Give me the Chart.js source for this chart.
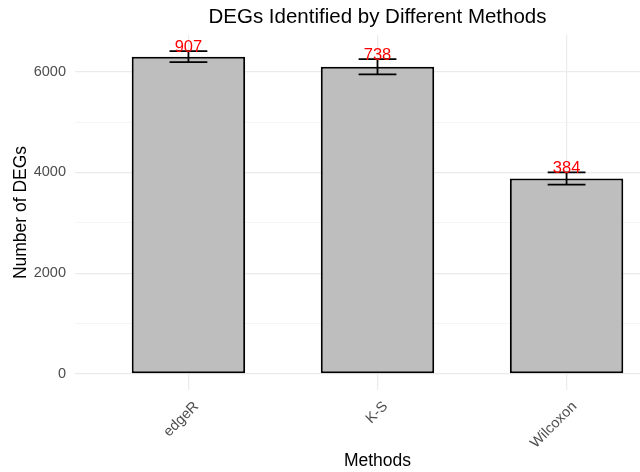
<!DOCTYPE html>
<html>
<head>
<meta charset="utf-8">
<script src="https://cdn.jsdelivr.net/npm/chart.js@4/dist/chart.umd.min.js"></script>
<style>
  html, body { margin: 0; padding: 0; overflow: hidden; background: #fff; }
  #wrap { position: relative; width: 680px; height: 472px; }
</style>
</head>
<body>
<div id="wrap"><canvas id="c"></canvas></div>
<script>
// ---- data ----
const methods = ["edgeR", "K-S", "Wilcoxon"];
const degMeans = [6300, 6100, 3880];
const degSD = [110, 150, 120];
const uniqueLabels = ["907", "738", "384"];
const yTickValues = [0, 1000, 2000, 3000, 4000, 5000, 6000];
const yLabelValues = [0, 2000, 4000, 6000];

const FONT = "'Liberation Sans', Arial, sans-serif";

// ggplot-like expansion
const topVal = Math.max(...degMeans.map((m, i) => m + degSD[i]));
const yMin = -0.05 * topVal;
const yMax = topVal * 1.05;

const errorBarPlugin = {
  id: 'errbars',
  afterDatasetsDraw(chart) {
    const ctx = chart.ctx;
    const xs = chart.scales.x, ys = chart.scales.y;
    ctx.save();
    ctx.strokeStyle = '#000';
    ctx.lineWidth = 1.8;
    degMeans.forEach((m, i) => {
      const xc = xs.getPixelForValue(i + 1);
      const xl = xs.getPixelForValue(i + 1 - 0.1);
      const xr = xs.getPixelForValue(i + 1 + 0.1);
      const yt = ys.getPixelForValue(m + degSD[i]);
      const yb = ys.getPixelForValue(m - degSD[i]);
      ctx.beginPath();
      ctx.moveTo(xc, yt); ctx.lineTo(xc, yb);
      ctx.moveTo(xl, yt); ctx.lineTo(xr, yt);
      ctx.moveTo(xl, yb); ctx.lineTo(xr, yb);
      ctx.stroke();
    });
    ctx.fillStyle = '#ff0000';
    ctx.font = '16.5px ' + FONT;
    ctx.textAlign = 'center';
    ctx.textBaseline = 'alphabetic';
    degMeans.forEach((m, i) => {
      const xc = xs.getPixelForValue(i + 1);
      const yt = ys.getPixelForValue(m + degSD[i]);
      ctx.fillText(uniqueLabels[i], xc, yt + 1);
    });
    ctx.restore();
  }
};

new Chart(document.getElementById('c'), {
  type: 'bar',
  data: {
    datasets: [{
      data: methods.map((m, i) => ({ x: i + 1, y: degMeans[i] })),
      backgroundColor: '#bebebe',
      borderColor: '#000000',
      borderWidth: 2,
      borderSkipped: false,
      categoryPercentage: 1.0,
      barPercentage: 0.6
    }]
  },
  options: {
    responsive: true,
    maintainAspectRatio: false,
    animation: false,
    layout: { padding: 0 },
    plugins: {
      legend: { display: false },
      tooltip: { enabled: false },
      title: {
        display: true,
        text: 'DEGs Identified by Different Methods',
        fullSize: false,
        color: '#000',
        font: { family: FONT, size: 20.5, weight: 'normal' },
        padding: { top: 5, bottom: 5.4 }
      }
    },
    scales: {
      x: {
        type: 'linear',
        min: 0.4,
        max: 3.6,
        offset: false,
        afterBuildTicks(scale) {
          scale.ticks = methods.map((m, i) => ({ value: i + 1 }));
        },
        afterFit(scale) { scale.height = 82; },
        grid: { color: '#ebebeb', lineWidth: 1.2, drawTicks: false, tickLength: 0, offset: false },
        border: { display: false },
        ticks: {
          color: '#4d4d4d',
          font: { family: FONT, size: 14.5 },
          minRotation: 45,
          maxRotation: 45,
          padding: 8,
          labelOffset: 8,
          autoSkip: false,
          callback: (v) => methods[Math.round(v) - 1]
        },
        title: {
          display: true,
          text: 'Methods',
          color: '#000',
          font: { family: FONT, size: 17.5 },
          padding: { top: 2, bottom: 0.5 }
        }
      },
      y: {
        type: 'linear',
        min: yMin,
        max: yMax,
        afterBuildTicks(scale) {
          scale.ticks = yTickValues.map(v => ({ value: v }));
        },
        afterFit(scale) { scale.width = 75; },
        grid: {
          color: (c) => yLabelValues.includes(c.tick && c.tick.value) ? '#ebebeb' : '#f3f3f3',
          lineWidth: (c) => yLabelValues.includes(c.tick && c.tick.value) ? 1.2 : 0.8,
          drawTicks: false
        },
        border: { display: false },
        ticks: {
          color: '#4d4d4d',
          font: { family: FONT, size: 14.5 },
          padding: 9,
          autoSkip: false,
          callback: (v) => yLabelValues.includes(v) ? String(v) : ''
        },
        title: {
          display: true,
          text: 'Number of DEGs',
          color: '#000',
          font: { family: FONT, size: 17.5 },
          padding: { top: 11, bottom: 0 }
        }
      }
    }
  },
  plugins: [errorBarPlugin]
});
</script>
</body>
</html>
